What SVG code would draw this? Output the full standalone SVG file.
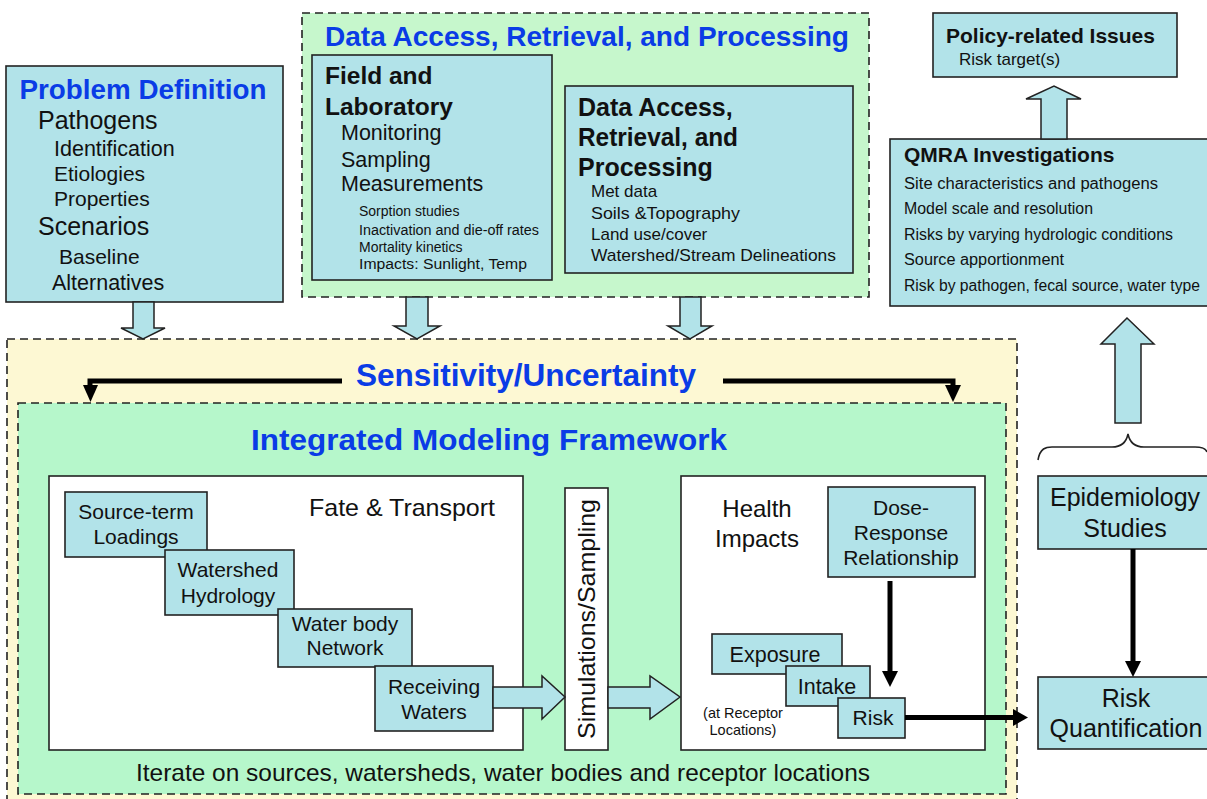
<svg xmlns="http://www.w3.org/2000/svg" width="1207" height="799" viewBox="0 0 1207 799">
<style>
text{font-family:"Liberation Sans",Arial,sans-serif;fill:#111}
.b{fill:#b2e3e9;stroke:#222;stroke-width:1.6}
.w{fill:#fff;stroke:#222;stroke-width:1.6}
.d{stroke:#222;stroke-width:1.6;stroke-dasharray:8 5}
.a{fill:#b2e3e9;stroke:#222;stroke-width:1.5}
.k{stroke:#000;stroke-width:5;fill:none}
.t{font-weight:700;fill:#0a3ce6}
.h{font-weight:700}
.c{text-anchor:middle}
.s21{font-size:21px}.s22{font-size:21.5px}.s17{font-size:17px}.s16{font-size:16px}.s14{font-size:14px}
</style>
<rect width="1207" height="799" fill="#fff"/>
<g id="sensitivity"><rect x="7" y="339" width="1010" height="470" fill="#fdf8d3" class="d"/>
<text x="526" y="386" class="t c" font-size="31" textLength="340" lengthAdjust="spacingAndGlyphs">Sensitivity/Uncertainty</text></g>
<g id="framework"><rect x="18" y="403" width="988" height="391" fill="#b6f7cb" class="d"/>
<text x="489" y="450" class="t c" font-size="30" textLength="476" lengthAdjust="spacingAndGlyphs">Integrated Modeling Framework</text>
<text x="503" y="781" class="c" font-size="24" textLength="734" lengthAdjust="spacingAndGlyphs">Iterate on sources, watersheds, water bodies and receptor locations</text></g>
<g id="data-group"><rect x="302" y="13" width="567" height="284" fill="#c6f7cc" class="d"/>
<text x="587" y="46" class="t c" font-size="28" textLength="524" lengthAdjust="spacingAndGlyphs">Data Access, Retrieval, and Processing</text></g>
<g id="problem-definition"><rect x="6" y="66" width="277" height="236" class="b"/>
<text x="143" y="99" class="t c" font-size="27" textLength="247" lengthAdjust="spacingAndGlyphs">Problem Definition</text>
<text x="38" y="129" font-size="25">Pathogens</text>
<text x="54" y="156" class="s22">Identification</text>
<text x="54" y="181" class="s21">Etiologies</text>
<text x="54" y="206" class="s21">Properties</text>
<text x="38" y="235" font-size="25">Scenarios</text>
<text x="59" y="264" class="s21">Baseline</text>
<text x="52" y="290" class="s22">Alternatives</text></g>
<g id="field-lab"><rect x="312" y="55" width="240" height="225" class="b"/>
<text x="325" y="84" class="h" font-size="24.5">Field and</text>
<text x="325" y="115" class="h" font-size="24.5">Laboratory</text>
<text x="341" y="140" class="s22">Monitoring</text>
<text x="341" y="167" class="s22">Sampling</text>
<text x="341" y="191" class="s22">Measurements</text>
<text x="359" y="216" class="s14">Sorption studies</text>
<text x="359" y="235" class="s14" textLength="180" lengthAdjust="spacingAndGlyphs">Inactivation and die-off rates</text>
<text x="359" y="252" class="s14">Mortality kinetics</text>
<text x="359" y="269" class="s14" textLength="168" lengthAdjust="spacingAndGlyphs">Impacts: Sunlight, Temp</text></g>
<g id="data-access"><rect x="565" y="86" width="288" height="187" class="b"/>
<text x="578" y="116" class="h" font-size="25">Data Access,</text>
<text x="578" y="146" class="h" font-size="25" textLength="160" lengthAdjust="spacingAndGlyphs">Retrieval, and</text>
<text x="578" y="176" class="h" font-size="25">Processing</text>
<text x="591" y="197" class="s17">Met data</text>
<text x="591" y="219" class="s17" textLength="149" lengthAdjust="spacingAndGlyphs">Soils &amp;Topography</text>
<text x="591" y="240" class="s17">Land use/cover</text>
<text x="591" y="261" class="s17" textLength="245" lengthAdjust="spacingAndGlyphs">Watershed/Stream Delineations</text></g>
<g id="policy"><rect x="933" y="13" width="244" height="64" class="b"/>
<text x="946" y="43" class="h s21">Policy-related Issues</text>
<text x="959" y="65" class="s17">Risk target(s)</text></g>
<g id="qmra"><rect x="890" y="139" width="330" height="167" class="b"/>
<text x="904" y="162" class="h s21">QMRA Investigations</text>
<text x="904" y="189" class="s16" textLength="254" lengthAdjust="spacingAndGlyphs">Site characteristics and pathogens</text>
<text x="904" y="214" class="s16" textLength="189" lengthAdjust="spacingAndGlyphs">Model scale and resolution</text>
<text x="904" y="240" class="s16" textLength="269" lengthAdjust="spacingAndGlyphs">Risks by varying hydrologic conditions</text>
<text x="904" y="265" class="s16" textLength="160" lengthAdjust="spacingAndGlyphs">Source apportionment</text>
<text x="904" y="291" class="s16" textLength="296" lengthAdjust="spacingAndGlyphs">Risk by pathogen, fecal source, water type</text></g>
<g id="fate-transport"><rect x="49" y="476" width="474" height="274" class="w"/>
<text x="402" y="516" class="c" font-size="24" textLength="186" lengthAdjust="spacingAndGlyphs">Fate &amp; Transport</text></g>
<g id="simulations"><rect x="565" y="488" width="43" height="262" class="w"/>
<text transform="translate(595 619) rotate(-90)" class="c" font-size="24" textLength="240" lengthAdjust="spacingAndGlyphs">Simulations/Sampling</text></g>
<g id="health-impacts"><rect x="681" y="476" width="304" height="274" class="w"/>
<text x="757" y="517" class="c" font-size="24">Health</text>
<text x="757" y="547" class="c" font-size="24">Impacts</text></g>
<g id="source-term"><rect x="65" y="492" width="142" height="65" class="b"/>
<text x="136" y="519" class="c s21">Source-term</text><text x="136" y="544" class="c s21">Loadings</text></g>
<g id="watershed"><rect x="165" y="550" width="129" height="65" class="b"/>
<text x="228" y="577" class="c s21">Watershed</text><text x="228" y="603" class="c s21">Hydrology</text></g>
<g id="water-body"><rect x="278" y="609" width="134" height="58" class="b"/>
<text x="345" y="631" class="c s21">Water body</text><text x="345" y="655" class="c s21">Network</text></g>
<g id="receiving"><rect x="375" y="666" width="118" height="65" class="b"/>
<text x="434" y="694" class="c s21">Receiving</text><text x="434" y="719" class="c s21">Waters</text></g>
<g id="dose-response"><rect x="828" y="487" width="147" height="90" class="b"/>
<text x="901" y="515" class="c s21">Dose-</text><text x="901" y="540" class="c s21">Response</text><text x="901" y="565" class="c s21">Relationship</text></g>
<g id="exposure"><rect x="712" y="634" width="130" height="40" class="b"/>
<text x="775" y="662" class="c s22">Exposure</text></g>
<g id="intake"><rect x="786" y="666" width="84" height="40" class="b"/>
<text x="827" y="694" class="c s22">Intake</text></g>
<g id="risk"><rect x="838" y="698" width="67" height="40" class="b"/>
<text x="873" y="725" class="c s21">Risk</text></g>
<g id="receptor-note"><text x="743" y="718" class="c" font-size="14.5">(at Receptor</text><text x="743" y="735" class="c" font-size="14.5">Locations)</text></g>
<g id="epidemiology"><rect x="1038" y="476" width="175" height="73" class="b"/>
<text x="1125" y="506" class="c" font-size="25">Epidemiology</text><text x="1125" y="537" class="c" font-size="25">Studies</text></g>
<g id="risk-quant"><rect x="1038" y="677" width="175" height="72" class="b"/>
<text x="1126" y="707" class="c" font-size="25">Risk</text><text x="1126" y="737" class="c" font-size="25">Quantification</text></g>
<g id="connectors">
<path class="a" d="M133 302V328H121L143 339L165 328H154V302Z"/>
<path class="a" d="M406 297V326H394L417 339L440 326H428V297Z"/>
<path class="a" d="M680 297V326H668L690 339L712 326H701V297Z"/>
<path class="a" d="M1041 139V99H1026L1054 86L1081 99H1067V139Z"/>
<path class="a" d="M1115 423V344H1101L1127 318L1154 344H1141V423Z"/>
<path class="a" d="M493 687H542V676L565 697L542 719V708H493Z"/>
<path class="a" d="M608 687H650V676L680 697L650 719V708H608Z"/>
<path d="M1038 460C1040 448 1046 447 1052 447H1112C1120 447 1126 444 1128 434C1130 444 1136 447 1144 447H1195C1201 447 1206 449 1207 452" fill="none" stroke="#222" stroke-width="1.6"/>
<path class="k" d="M342 381H90V386"/><path d="M83 385H98L90.500 402Z"/>
<path class="k" d="M723 381H953V386"/><path d="M945 385H961L953 402Z"/>
<path class="k" d="M890 581V672"/><path d="M882 671H898L890 687Z"/>
<path class="k" d="M1133 549V664"/><path d="M1125 661H1141L1133 677Z"/>
<path class="k" d="M905 717.500H1014"/><path d="M1013 709L1028 717.500L1013 726Z"/>
</g>
</svg>
